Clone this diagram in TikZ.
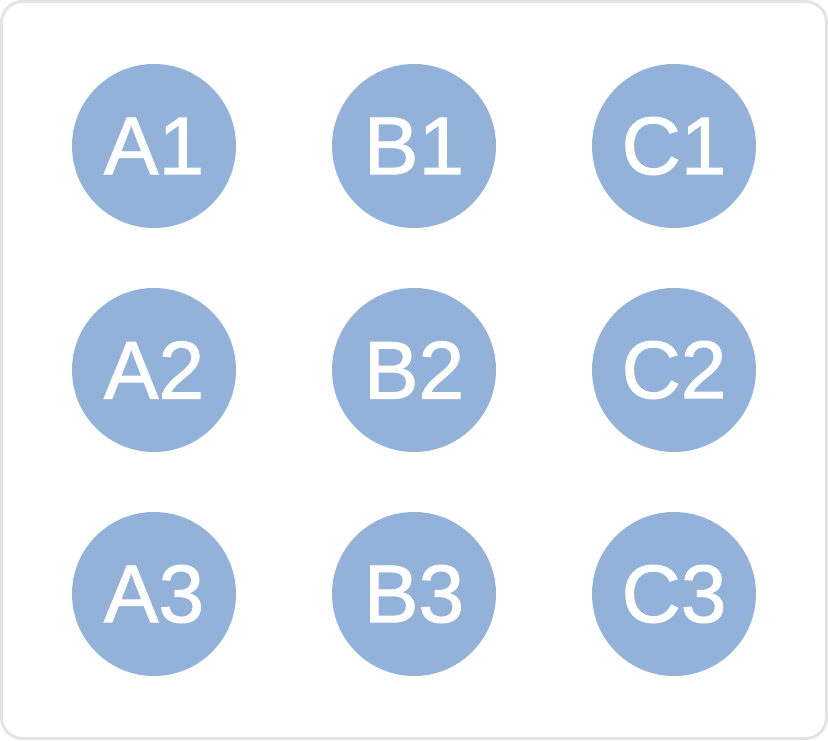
\documentclass[tikz,border=0pt]{standalone}
\usepackage{fontspec}
\setmainfont{Liberation Sans}
\newfontfamily\cellfont{Liberation Sans}[FakeBold=1.2]
\definecolor{circfill}{HTML}{92B2DA}
\definecolor{frameline}{HTML}{E3E3E3}
\begin{document}
\begin{tikzpicture}[x=1pt,y=-1pt,
  cell/.style={circle,fill=circfill,minimum size=164pt,inner sep=0pt,text=white,font=\cellfont\fontsize{82}{82}\selectfont},
  frame/.style={draw=frameline,line width=3pt,rounded corners=21pt,fill=white}]
\useasboundingbox (0,0) rectangle (828,740);
\draw[frame] (1.5,1.5) rectangle (826.5,738.5);
\foreach \c/\x in {A/154,B/414,C/674}{
  \foreach \r/\y in {1/146,2/370,3/594}{
    \node[cell] (\c\r) at (\x,\y) {\c\r};
  }
}
\end{tikzpicture}
\end{document}
